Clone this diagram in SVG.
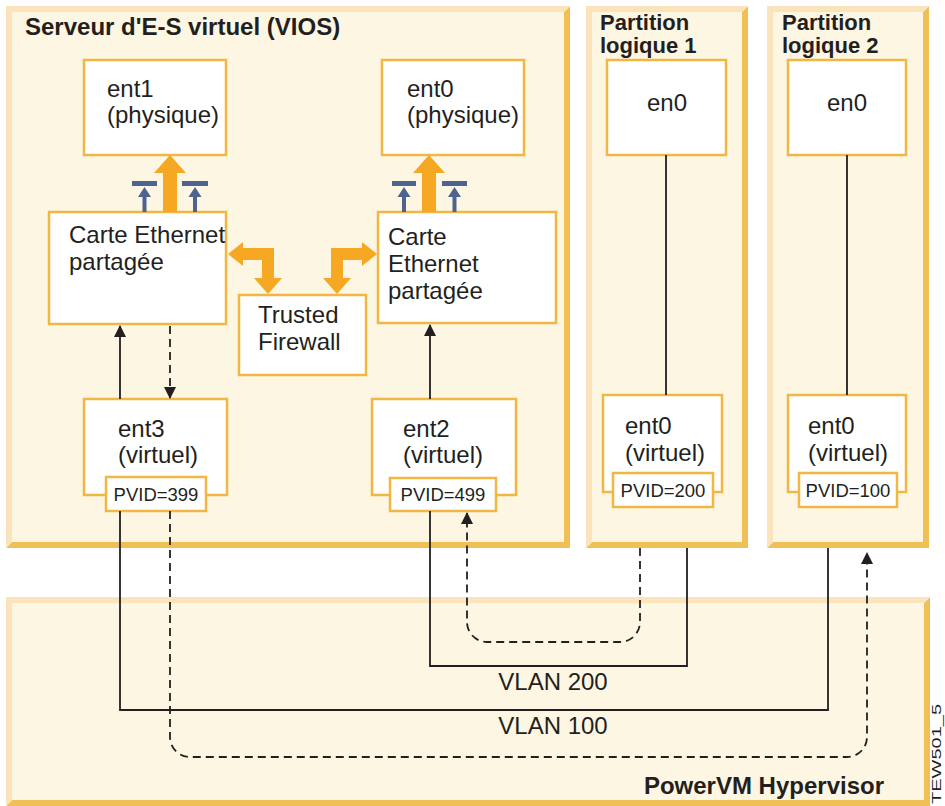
<svg xmlns="http://www.w3.org/2000/svg" width="945" height="806" viewBox="0 0 945 806">
<defs>
<style>
.lt{fill:#fbe4bb}
.dk{fill:#f0bf55}
.in{fill:#fdf6e3}
.box{fill:#fff;stroke:#f1b743;stroke-width:2.5}
.t{font-family:"Liberation Sans",Arial,sans-serif;font-size:24px;fill:#231f20}
.tb{font-family:"Liberation Sans",Arial,sans-serif;font-size:22px;font-weight:bold;fill:#231f20}
.pv{font-family:"Liberation Sans",Arial,sans-serif;font-size:18.5px;fill:#231f20;text-anchor:middle}
.c{fill:none;stroke:#231f20;stroke-width:1.8}
.d{stroke-dasharray:8,5}
.or{fill:#f7a823}
.bl{fill:#4d6490}
</style>
<marker id="ah" markerUnits="userSpaceOnUse" markerWidth="12" markerHeight="12" refX="11" refY="6" orient="auto">
<path d="M0,0 L12,6 L0,12 z" fill="#231f20"/>
</marker>
</defs>
<rect width="945" height="806" fill="#fff"/>

<g id="vios">
<polygon class="dk" points="570,6 570,548 6,548 12,542 564,542 564,12"/>
<polygon class="lt" points="6,6 570,6 564,12 12,12 12,542 6,548"/>
<rect class="in" x="12" y="12" width="552" height="530"/>
<text class="tb" x="25" y="35" style="font-size:24px">Serveur d'E-S virtuel (VIOS)</text>
</g>
<g id="lpar1">
<polygon class="dk" points="748,6 748,548 586,548 592,542 742,542 742,12"/>
<polygon class="lt" points="586,6 748,6 742,12 592,12 592,542 586,548"/>
<rect class="in" x="592" y="12" width="150" height="530"/>
<text class="tb" x="600" y="30">Partition</text>
<text class="tb" x="600" y="53">logique 1</text>
</g>
<g id="lpar2">
<polygon class="dk" points="929,6 929,548 767,548 773,542 923,542 923,12"/>
<polygon class="lt" points="767,6 929,6 923,12 773,12 773,542 767,548"/>
<rect class="in" x="773" y="12" width="150" height="530"/>
<text class="tb" x="782" y="30">Partition</text>
<text class="tb" x="782" y="53">logique 2</text>
</g>
<g id="hypervisor">
<polygon class="dk" points="930,597 930,806 6,806 12,800 924,800 924,603"/>
<polygon class="lt" points="6,597 930,597 924,603 12,603 12,800 6,806"/>
<rect class="in" x="12" y="603" width="912" height="197"/>
<text class="tb" x="884" y="794" text-anchor="end" style="font-size:24px">PowerVM Hypervisor</text>
</g>

<g id="ent1">
<rect class="box" x="84" y="60" width="142" height="95"/>
<text class="t" x="107" y="97">ent1</text>
<text class="t" x="107" y="123">(physique)</text>
</g>
<g id="ent0phys">
<rect class="box" x="382" y="60" width="142" height="95"/>
<text class="t" x="407" y="97">ent0</text>
<text class="t" x="407" y="123">(physique)</text>
</g>
<g id="sea1">
<rect class="box" x="49" y="212" width="177" height="112"/>
<text class="t" x="69" y="243">Carte Ethernet</text>
<text class="t" x="69" y="270">partagée</text>
</g>
<g id="sea2">
<rect class="box" x="378" y="212" width="178" height="111"/>
<text class="t" x="388" y="245">Carte</text>
<text class="t" x="388" y="272">Ethernet</text>
<text class="t" x="388" y="299">partagée</text>
</g>
<g id="firewall">
<rect class="box" x="239" y="295" width="127" height="80"/>
<text class="t" x="258" y="323">Trusted</text>
<text class="t" x="258" y="350">Firewall</text>
</g>
<g id="ent3">
<rect class="box" x="84" y="399" width="143" height="96"/>
<text class="t" x="118" y="437">ent3</text>
<text class="t" x="118" y="463">(virtuel)</text>
<rect class="box" x="106" y="477" width="100" height="34"/>
<text class="pv" x="156" y="501">PVID=399</text>
</g>
<g id="ent2">
<rect class="box" x="372" y="399" width="144" height="96"/>
<text class="t" x="403" y="437">ent2</text>
<text class="t" x="403" y="463">(virtuel)</text>
<rect class="box" x="390" y="478" width="106" height="33"/>
<text class="pv" x="443" y="501">PVID=499</text>
</g>
<g id="en0-1">
<rect class="box" x="607" y="60" width="119" height="95"/>
<text class="t" x="667" y="111" text-anchor="middle">en0</text>
</g>
<g id="en0-2">
<rect class="box" x="788" y="60" width="118" height="95"/>
<text class="t" x="847" y="111" text-anchor="middle">en0</text>
</g>
<g id="ent0-1">
<rect class="box" x="603" y="395" width="119" height="97"/>
<text class="t" x="625" y="434">ent0</text>
<text class="t" x="625" y="461">(virtuel)</text>
<rect class="box" x="613" y="473" width="100" height="34"/>
<text class="pv" x="663" y="497">PVID=200</text>
</g>
<g id="ent0-2">
<rect class="box" x="788" y="395" width="118" height="97"/>
<text class="t" x="808" y="434">ent0</text>
<text class="t" x="808" y="461">(virtuel)</text>
<rect class="box" x="799" y="473" width="98" height="34"/>
<text class="pv" x="848" y="497">PVID=100</text>
</g>

<g id="connectors">
<polygon class="or" points="163,212 163,173 154,173 170,155 186,173 177,173 177,212"/>
<polygon class="or" points="422,212 422,173 413,173 429,155 445,173 436,173 436,212"/>
<polygon class="or" points="228,254 243,242 243,248 274,248 274,278 282,278 268,294 254,278 262,278 262,260 243,260 243,266"/>
<polygon class="or" points="377,254 362,242 362,248 331,248 331,278 323,278 337,294 351,278 343,278 343,260 362,260 362,266"/>
<g class="bl">
<rect x="132" y="181" width="25" height="5"/>
<polygon points="144.5,187 151,197 146.5,197 146.5,212 142.5,212 142.5,197 138,197"/>
<rect x="182" y="181" width="26" height="5"/>
<polygon points="195,187 201.5,197 197,197 197,212 193,212 193,197 188.5,197"/>
<rect x="392" y="181" width="24" height="5"/>
<polygon points="404,187 410.5,197 406,197 406,212 402,212 402,197 397.5,197"/>
<rect x="442" y="181" width="25" height="5"/>
<polygon points="454.5,187 461,197 456.5,197 456.5,212 452.5,212 452.5,197 448,197"/>
</g>
<line class="c" x1="120" y1="399" x2="120" y2="326" marker-end="url(#ah)"/>
<line class="c d" x1="170" y1="326" x2="170" y2="398" marker-end="url(#ah)"/>
<line class="c" x1="430" y1="399" x2="430" y2="325" marker-end="url(#ah)"/>
<line class="c" x1="666" y1="155" x2="666" y2="395"/>
<line class="c" x1="847" y1="155" x2="847" y2="395"/>
<path class="c" d="M430,511 V666 H687 V548"/>
<path class="c d" d="M640,548 V622 A20,20 0 0 1 620,642 H487 A20,20 0 0 1 467,622 V513" marker-end="url(#ah)"/>
<path class="c" d="M120,511 V710 H828 V548"/>
<path class="c d" d="M170,511 V737 A20,20 0 0 0 190,757 H847 A20,20 0 0 0 867,737 V553" marker-end="url(#ah)"/>
</g>

<text class="t" x="553" y="690" text-anchor="middle">VLAN 200</text>
<text class="t" x="553" y="734" text-anchor="middle">VLAN 100</text>
<text x="0" y="0" transform="translate(941,804) rotate(-90)" style="font-family:'Liberation Sans',Arial,sans-serif;font-size:12px;fill:#231f20" textLength="100" lengthAdjust="spacingAndGlyphs">TEW501_5</text>
</svg>
